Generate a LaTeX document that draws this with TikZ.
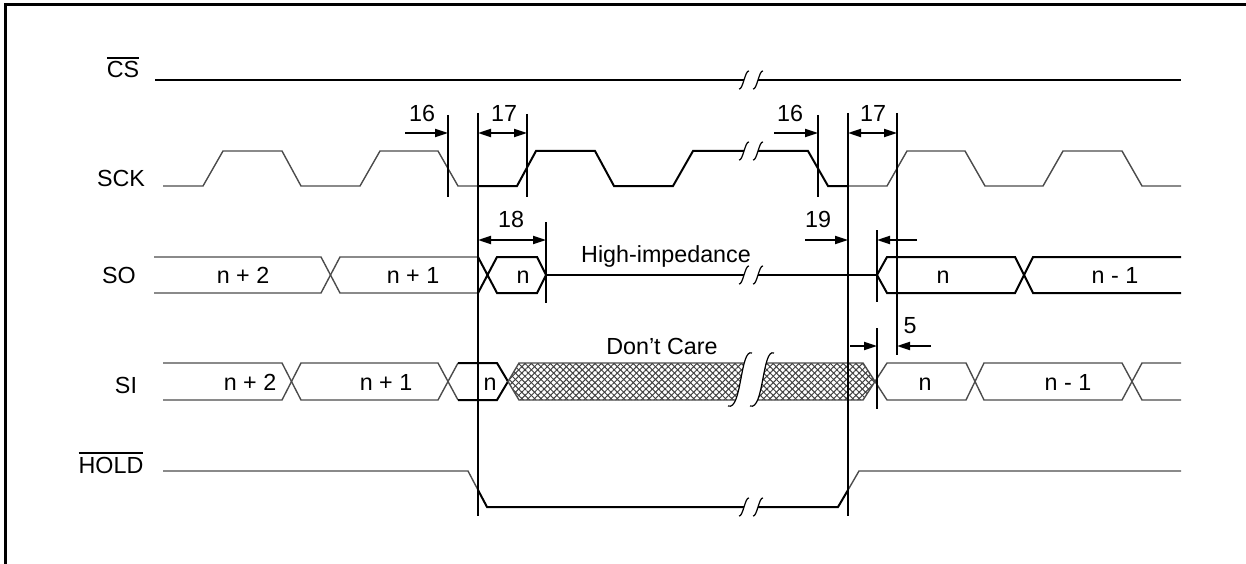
\documentclass[tikz,border=0pt]{standalone}
\usepackage{fontspec}
\setmainfont{Liberation Sans}
\usetikzlibrary{arrows.meta,patterns.meta}
\newcommand{\brkS}[2]{\draw[brk] (#1-5,#2+9) .. controls (#1-1,#2+10) and (#1+1,#2-10) .. (#1+5,#2-9);}
\newcommand{\ovl}[1]{\vbox{\hrule height 1.8pt\kern2.5pt\hbox{#1}}}
\begin{document}
\begin{tikzpicture}[x=1pt,y=-1pt,
  lbl/.style={anchor=base,inner sep=0pt,font=\fontsize{23.3}{27}\selectfont},
  sig/.style={line width=1.4pt,draw=black!70,line join=miter},
  sigb/.style={line width=2pt,draw=black,line join=miter},
  tl/.style={line width=2.3pt,draw=black},
  dimarr/.style={line width=2pt,-{Triangle[length=13pt,width=8pt]}},
  dimboth/.style={line width=2pt,{Triangle[length=13pt,width=8pt]}-{Triangle[length=13pt,width=8pt]}},
  brk/.style={line width=1.2pt,draw=black}]
\useasboundingbox (0,0) rectangle (1246,564);
% frame
\draw[line width=3pt] (5,564) -- (5,5) -- (1246,5);

% signal names
\node[lbl] (lcs) at (123,78) {\ovl{CS}};
\node[lbl] (lsck) at (121,186) {SCK};
\node[lbl] (lso) at (119,283) {SO};
\node[lbl] (lsi) at (126,393) {SI};
\node[lbl] (lhold) at (111,473) {\ovl{HOLD}};

% CS
\draw[sigb] (155,80) -- (744,80);
\draw[sigb] (758,80) -- (1181,80);
\brkS{744}{80}\brkS{758}{80}

% SCK
\draw[sig] (163,186) -- (203,186) -- (223,151) -- (282,151) -- (301,186) -- (360,186) -- (380,151) -- (438,151) -- (458,186) -- (478,186);
\draw[sigb] (478,186) -- (517,186) -- (536,151) -- (595,151) -- (614,186) -- (673,186) -- (693,151) -- (744,151);
\draw[sigb] (758,151) -- (808,151) -- (828,186) -- (848,186);
\draw[sig] (848,186) -- (887,186) -- (907,151) -- (965,151) -- (985,186) -- (1043,186) -- (1063,151) -- (1122,151) -- (1142,186) -- (1181,186);
\brkS{744}{151}\brkS{758}{151}

% SO
\draw[sig] (154,257) -- (321,257) -- (340,293) -- (478,293);
\draw[sig] (154,293) -- (321,293) -- (340,257) -- (478,257);
\draw[sigb] (478,293) -- (497,257) -- (537,257) -- (546,275) -- (537,293) -- (497,293) -- (478,257);
\draw[sigb] (546,275) -- (744,275);
\draw[sigb] (758,275) -- (877,275);
\brkS{744}{275}\brkS{758}{275}
\draw[sigb] (877,275) -- (887,257) -- (1015,257) -- (1033,293) -- (1181,293);
\draw[sigb] (877,275) -- (887,293) -- (1015,293) -- (1033,257) -- (1181,257);

% SI
\draw[sig] (163,363) -- (282,363) -- (301,400) -- (438,400) -- (458,363);
\draw[sig] (163,400) -- (282,400) -- (301,363) -- (438,363) -- (458,400);
\draw[sigb] (458,363) -- (497,363) -- (508,381.5) -- (497,400) -- (458,400);
\fill[pattern={Lines[angle=45,distance=4.5pt,line width=1pt]},pattern color=black!75]
  (508,381.5) -- (519,363) -- (863,363) -- (875,381.5) -- (863,400) -- (519,400) -- cycle;
\fill[pattern={Lines[angle=-45,distance=4.5pt,line width=1pt]},pattern color=black!75]
  (508,381.5) -- (519,363) -- (863,363) -- (875,381.5) -- (863,400) -- (519,400) -- cycle;
\draw[sig] (508,381.5) -- (519,363) -- (863,363) -- (875,381.5) -- (863,400) -- (519,400) -- cycle;
\fill[white] (752,353) .. controls (740,348) and (742,411) .. (728,406) -- (750,406) .. controls (764,411) and (762,348) .. (774,353) -- cycle;
\draw[brk] (752,353) .. controls (740,348) and (742,411) .. (728,406);
\draw[brk] (774,353) .. controls (762,348) and (764,411) .. (750,406);
\draw[sig] (875,381.5) -- (887,363) -- (966,363) -- (984,400) -- (1122,400) -- (1142,363) -- (1181,363);
\draw[sig] (875,381.5) -- (887,400) -- (966,400) -- (984,363) -- (1122,363) -- (1142,400) -- (1181,400);

% HOLD
\draw[sig] (163,471) -- (468,471) -- (478,490);
\draw[sigb] (478,490) -- (487,507) -- (744,507);
\draw[sigb] (758,507) -- (838,507) -- (848,490);
\draw[sig] (848,490) -- (859,471) -- (1181,471);
\brkS{744}{507}\brkS{758}{507}

% bus texts
\node[lbl] (so1) at (243,283) {n + 2};
\node[lbl] (so2) at (413,283) {n + 1};
\node[lbl] (so3) at (523,283) {n};
\node[lbl] (so4) at (943,283) {n};
\node[lbl] (so5) at (1115,283) {n - 1};
\node[lbl] (si1) at (250,390) {n + 2};
\node[lbl] (si2) at (386,390) {n + 1};
\node[lbl] (si3) at (490,390) {n};
\node[lbl] (si4) at (925,390) {n};
\node[lbl] (si5) at (1068,390) {n - 1};
\node[lbl] (hiz) at (666,262) {High-impedance};
\node[lbl] (dc) at (662,354) {Don’t Care};

% timing lines
\coordinate (a1) at (448,115); \coordinate (a2) at (448,197);
\coordinate (b1) at (478,113); \coordinate (b2) at (478,516);
\coordinate (c1) at (527,114); \coordinate (c2) at (527,197);
\coordinate (d1) at (546,222); \coordinate (d2) at (546,303);
\coordinate (e1) at (818,115); \coordinate (e2) at (818,197);
\coordinate (f1) at (848,113); \coordinate (f2) at (848,516);
\coordinate (g1) at (897,113); \coordinate (g2) at (897,355);
\coordinate (h1) at (877,230); \coordinate (h2) at (877,302);
\coordinate (i1) at (877,328); \coordinate (i2) at (877,409);
\foreach \p in {a,b,c,d,e,f,g,h,i} {\draw[tl] (\p1) -- (\p2);}

% dimension arrows
\coordinate (s16a) at (405,133);
\coordinate (s16b) at (774,133);
\coordinate (s19) at (805,240);
\coordinate (s19r) at (917,240);
\coordinate (s5a) at (850,346);
\coordinate (s5b) at (931,346);
\draw[dimarr] (s16a) -- (448,133);
\draw[dimboth] (478,133) -- (527,133);
\draw[dimboth] (478,240) -- (546,240);
\draw[dimarr] (s16b) -- (818,133);
\draw[dimboth] (848,133) -- (897,133);
\draw[dimarr] (s19) -- (848,240);
\draw[dimarr] (s19r) -- (877,240);
\draw[dimarr] (s5a) -- (877,346);
\draw[dimarr] (s5b) -- (897,346);

\node[lbl] (t16a) at (422,122) {16};
\node[lbl] (t17a) at (504,122) {17};
\node[lbl] (t18) at (511,227) {18};
\node[lbl] (t16b) at (790,122) {16};
\node[lbl] (t17b) at (873,122) {17};
\node[lbl] (t19) at (818,227) {19};
\node[lbl] (t5) at (910,333) {5};
\end{tikzpicture}
\end{document}
